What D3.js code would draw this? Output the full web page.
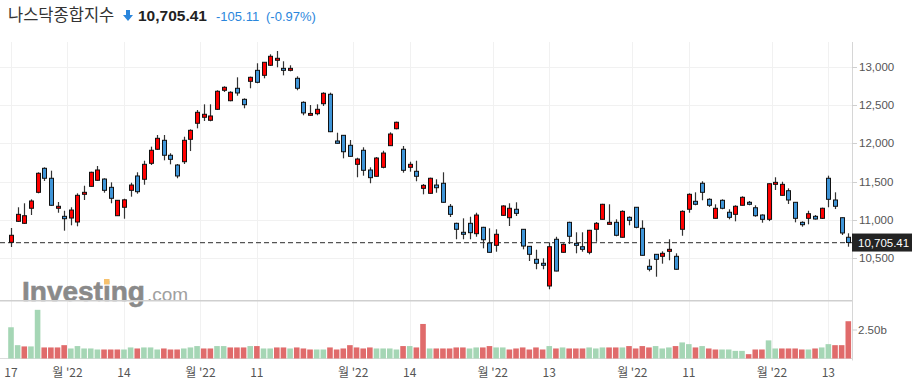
<!DOCTYPE html>
<html>
<head>
<meta charset="utf-8">
<script src="https://cdn.jsdelivr.net/npm/d3@7"></script>
<style>
  body { margin: 0; background: #fff; }
  svg { display: block; font-family: "Liberation Sans", Arial, "Noto Sans CJK KR", sans-serif; }
</style>
</head>
<body>
<div id="chart"></div>
<script>
// size of the picture
const width = 919;
const height = 384;

// daily candles (oldest first)
const opens = [10708,10982,10956,11152,11360,11673,11543,11152,11047,11025,
  10973,11334,11438,11517,11533,11425,11055,11165,11386,11573,
  11530,11738,11921,12038,11843,11716,11759,12051,12260,12338,
  12299,12442,12690,12554,12716,12572,12807,12950,12885,13016,
  13081,12976,12950,12846,12533,12364,12385,12515,12638,12029,
  12103,11973,11725,11908,11651,11569,11686,11968,12189,11921,
  11686,11634,11412,11347,11455,11478,11178,10956,10839,10956,
  10821,10904,10699,10669,11060,11029,11139,10878,10656,10487,
  10435,10139,10748,10578,10969,10695,10651,10578,10878,11008,
  10943,10969,10774,11034,11165,10891,10396,10552,10526,10591,
  10526,10878,11139,11243,11478,11269,11021,11256,11100,11073,
  11191,11230,11159,11064,11008,11464,11321,11381,11230,10969,
  11021,11047,11021,11543,11260,11029,10774];
const highs = [10895,11165,11217,11269,11621,11686,11642,11234,11120,11165,
  11347,11446,11629,11703,11543,11490,11260,11277,11485,11621,
  11772,11955,12107,12107,11869,11729,12085,12181,12433,12507,
  12507,12690,12742,12677,12859,12585,12868,13042,13055,13159,
  13202,13068,13016,12872,12546,12498,12507,12664,12659,12137,
  12107,12042,11811,11947,11686,11820,11902,12142,12281,11964,
  11759,11772,11468,11551,11530,11621,11208,10964,11021,11042,
  11094,10910,10891,10878,11191,11217,11230,10882,10660,10612,
  10500,10708,10781,10695,10977,10839,10839,10870,10973,11210,
  11204,11008,11125,11047,11168,10995,10487,10556,10591,10748,
  10565,11125,11347,11360,11504,11282,11204,11269,11139,11191,
  11308,11247,11191,11073,11475,11556,11498,11412,11234,10982,
  11120,11064,11160,11577,11360,11032,10826];
const lows = [10647,10973,10947,11064,11347,11508,11185,11094,10860,10930,
  10917,11260,11434,11512,11355,11217,11051,11016,11303,11342,
  11459,11716,11912,11777,11725,11543,11729,11898,12194,12290,
  12286,12433,12668,12547,12619,12455,12716,12781,12846,13007,
  12990,12885,12937,12690,12364,12360,12364,12485,12145,11995,
  11803,11825,11556,11577,11478,11564,11673,11964,12181,11616,
  11629,11504,11334,11342,11355,11226,11038,10748,10748,10748,
  10781,10630,10574,10586,11051,10921,11051,10617,10465,10357,
  10357,10096,10330,10574,10686,10565,10586,10552,10716,11004,
  10940,10787,10770,10930,10891,10535,10330,10260,10430,10474,
  10352,10794,11094,11191,11256,11170,11018,11139,11008,10982,
  11188,11191,11042,10964,10985,11390,11316,11208,10969,10912,
  10943,11005,11012,11165,11142,10804,10651];
const closes = [10800,11073,11055,11247,11608,11543,11191,11178,11016,11129,
  11321,11360,11621,11651,11386,11282,11256,11262,11455,11368,
  11725,11908,12064,11843,11790,11573,12038,12168,12403,12377,
  12355,12677,12729,12664,12655,12502,12859,12794,13055,13133,
  13107,12950,12976,12716,12395,12388,12442,12651,12150,11999,
  11889,11829,11794,11647,11551,11807,11872,12120,12273,11647,
  11725,11569,11451,11543,11420,11230,11073,10878,10813,10834,
  11064,10742,10578,10813,11182,11152,11086,10660,10552,10435,
  10409,10651,10334,10682,10787,10669,10617,10865,10956,11204,
  10969,10800,11112,10995,10904,10539,10357,10487,10565,10617,
  10357,11112,11334,11204,11360,11191,11152,11152,11034,11178,
  11295,11204,11055,11008,11472,11490,11464,11260,11021,10938,
  11081,11012,11152,11269,11178,10830,10705.41];

// volume in billions, and colour of each volume bar (G = green, R = red)
const volumes = [2.74,1.17,1.06,1.06,4.27,0.97,0.97,0.97,1.17,0.88,
  1.09,0.88,0.88,0.79,0.79,0.79,0.79,0.79,0.97,0.88,
  0.97,0.97,0.79,0.88,0.79,0.79,0.88,0.97,1.09,0.88,
  0.88,1.09,1.09,0.97,0.97,0.97,1.09,1.09,0.88,0.88,
  0.97,0.97,0.88,0.97,0.88,0.79,0.79,0.79,0.97,0.79,
  0.88,1.17,0.97,0.88,0.97,0.88,0.88,0.88,0.79,1.09,
  1.09,0.97,3.03,0.88,0.88,0.88,0.88,0.97,0.97,0.88,
  0.97,0.97,1.09,0.97,0.97,0.79,0.88,0.97,0.79,0.97,
  0.79,1.09,0.88,0.97,0.88,0.88,0.88,0.97,0.88,0.97,
  0.97,0.97,0.97,1.09,0.88,1.09,0.97,1.09,0.88,0.97,
  1.09,1.41,1.26,0.97,1.09,0.88,0.79,0.79,0.79,0.67,
  0.67,0.38,0.79,0.79,1.59,0.88,0.88,0.88,0.88,0.79,
  0.79,0.88,0.97,1.26,1.17,1.17,3.27];
const volDir = "GGRGGRRRRG" + "GGGGRRRGGR" + "GGGRRRGGGR" + "RGGRRRGRGG" +
  "RRGRRRGGRR" + "RRRRRGGGGR" + "GRRGRRRRRG" + "GRRGGRRRRR" +
  "RGRGRRRGGG" + "RRGRRRRGGG" + "RGGRGRRGGG" + "GRRRGGRRRR" + "GRGGRRR";

// axis ticks
const priceTicks = [10500, 11000, 11500, 12000, 12500, 13000];
const volTicks = [2.5];
const volTickLabels = ["2.50b"];
const dateTickPos = [0, 8.5, 17, 28.5, 37, 51.5, 60, 72.5, 81, 93.5, 102, 114.5, 123];
const dateTickLabels = ["17", "월 '22", "14", "월 '22", "11", "월 '22", "14", "월 '22", "13", "월 '22", "11", "월 '22", "13"];

// header
const title = "나스닥종합지수";
const lastPrice = 10705.41;
const change = -105.11;
const changePct = -0.97;

const plotRight = 852;
const priceTop = 42, priceBottom = 300;
const volBottom = 358.5;

const candles = opens.map((o, i) => ({ i, o, h: highs[i], l: lows[i], c: closes[i], v: volumes[i], dir: volDir[i] }));

const svg = d3.select("#chart").append("svg")
  .attr("width", width)
  .attr("height", height);

const x = d3.scaleLinear().domain([0, candles.length - 1]).range([11, 848.3]);
const y = d3.scaleLinear().domain([10500, 13000]).range([258.3, 66.5]);
const yv = d3.scaleLinear().domain([0, 2.5]).range([volBottom, 330]);

const fmt = d3.format(",.2f");
const fmtInt = d3.format(",");
// plain hyphen for negatives, like the original
const signed = (v, f) => (v < 0 ? "-" : "") + d3.format(f)(Math.abs(v));

// grid
svg.append("g").selectAll("line").data(priceTicks).join("line")
  .attr("x1", 0).attr("x2", plotRight)
  .attr("y1", d => Math.round(y(d)) + 0.5).attr("y2", d => Math.round(y(d)) + 0.5)
  .attr("stroke", "#f1f1f1");
svg.append("g").selectAll("line").data(dateTickPos).join("line")
  .attr("x1", d => Math.round(x(d)) + 0.5).attr("x2", d => Math.round(x(d)) + 0.5)
  .attr("y1", priceTop).attr("y2", volBottom)
  .attr("stroke", "#f1f1f1");

// watermark
const wm = svg.append("g");
wm.append("text")
  .attr("x", 22).attr("y", 301)
  .attr("font-size", 28).attr("font-weight", "bold")
  .attr("fill", "#8a8a8a").attr("stroke", "#8a8a8a").attr("stroke-width", 0.6)
  .text("Investing");
wm.append("rect")
  .attr("x", 104).attr("y", 279).attr("width", 5.5).attr("height", 5.5)
  .attr("fill", "#f6c16d");
wm.append("text")
  .attr("x", 147).attr("y", 301)
  .attr("font-size", 19)
  .attr("fill", "#a0a0a0")
  .text(".com");

// panel separator and borders
svg.append("rect").attr("x", 0).attr("y", priceBottom).attr("width", plotRight).attr("height", 1.5).attr("fill", "#cfcfcf");
svg.append("line").attr("x1", 0).attr("x2", plotRight).attr("y1", volBottom).attr("y2", volBottom).attr("stroke", "#dcdcdc");
svg.append("line").attr("x1", plotRight + 0.5).attr("x2", plotRight + 0.5).attr("y1", priceTop).attr("y2", volBottom + 2).attr("stroke", "#d6d6d6");

// volume bars
svg.append("g").selectAll("rect").data(candles).join("rect")
  .attr("x", d => x(d.i) - 2.8)
  .attr("width", 5.6)
  .attr("y", d => yv(d.v))
  .attr("height", d => volBottom - yv(d.v))
  .attr("fill", d => d.dir === "G" ? "#a5d6b5" : "#e06b6b");

// last price dashed line
svg.append("line")
  .attr("x1", 0).attr("x2", plotRight)
  .attr("y1", y(lastPrice)).attr("y2", y(lastPrice))
  .attr("stroke", "#555").attr("stroke-width", 1.3)
  .attr("stroke-dasharray", "5,3");

// candles
const cg = svg.append("g").selectAll("g").data(candles).join("g");
cg.append("line")
  .attr("x1", d => Math.round(x(d.i)) + 0.5).attr("x2", d => Math.round(x(d.i)) + 0.5)
  .attr("y1", d => y(d.h)).attr("y2", d => y(d.l))
  .attr("stroke", "#333").attr("stroke-width", 1.2);
cg.append("rect")
  .attr("x", d => Math.round(x(d.i)) - 1.5)
  .attr("width", 4)
  .attr("y", d => y(Math.max(d.o, d.c)))
  .attr("height", d => Math.max(1.5, Math.abs(y(d.o) - y(d.c))))
  .attr("fill", d => d.c >= d.o ? "#ff0000" : "#3f95d8")
  .attr("stroke", "#111").attr("stroke-width", 1);

// right price axis
const ra = svg.append("g");
ra.selectAll("line").data(priceTicks).join("line")
  .attr("x1", plotRight).attr("x2", plotRight + 5)
  .attr("y1", d => Math.round(y(d)) + 0.5).attr("y2", d => Math.round(y(d)) + 0.5)
  .attr("stroke", "#cfcfcf");
ra.selectAll("text").data(priceTicks).join("text")
  .attr("x", 859).attr("y", d => y(d))
  .attr("dy", "0.35em")
  .attr("font-size", 11.5).attr("fill", "#555")
  .text(d => fmtInt(d));

// volume axis
svg.append("g").selectAll("line").data(volTicks).join("line")
  .attr("x1", plotRight).attr("x2", plotRight + 5)
  .attr("y1", d => yv(d)).attr("y2", d => yv(d))
  .attr("stroke", "#cfcfcf");
svg.append("g").selectAll("text").data(volTicks).join("text")
  .attr("x", 858).attr("y", d => yv(d))
  .attr("dy", "0.35em")
  .attr("font-size", 11.5).attr("fill", "#555")
  .text((d, i) => volTickLabels[i]);

// last price tag
const tag = svg.append("g").attr("transform", `translate(${plotRight},${y(lastPrice)})`);
tag.append("rect").attr("x", 0).attr("y", -9).attr("width", 60).attr("height", 18).attr("fill", "#232323");
tag.append("text").attr("x", 6).attr("y", 0).attr("dy", "0.35em")
  .attr("font-size", 11.5).attr("fill", "#fff")
  .text(fmt(lastPrice));

// date axis
svg.append("g").selectAll("text").data(dateTickPos).join("text")
  .attr("x", d => x(d)).attr("y", 377)
  .attr("text-anchor", "middle")
  .attr("font-size", 12).attr("fill", "#555")
  .attr("font-family", "'Noto Sans CJK KR', 'Liberation Sans', sans-serif")
  .text((d, i) => dateTickLabels[i]);

// header
const hd = svg.append("g");
hd.append("text")
  .attr("x", 8).attr("y", 21)
  .attr("font-size", 16.5).attr("fill", "#333")
  .attr("font-family", "'Noto Sans CJK KR', sans-serif")
  .text(title);
hd.append("path")
  .attr("d", "M126,10 h4 v5 h3 l-5,6 l-5,-6 h3 z")
  .attr("fill", "#2a86dc");
hd.append("text")
  .attr("x", 138).attr("y", 21)
  .attr("font-size", 15.5).attr("font-weight", "bold").attr("fill", "#222")
  .text(fmt(lastPrice));
hd.append("text")
  .attr("x", 216).attr("y", 21)
  .attr("font-size", 13).attr("fill", "#2a86dc")
  .text(signed(change, ",.2f"));
hd.append("text")
  .attr("x", 266).attr("y", 21)
  .attr("font-size", 13).attr("fill", "#2a86dc")
  .text(`(${signed(changePct, ".2f")}%)`);
</script>
</body>
</html>
